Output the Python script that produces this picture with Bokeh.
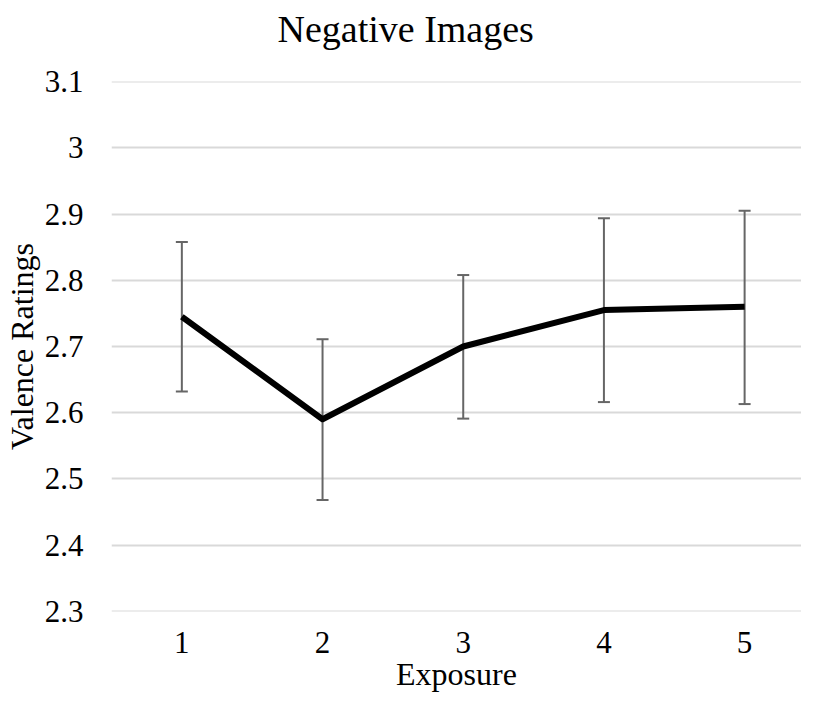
from bokeh.plotting import figure
from bokeh.models import ColumnDataSource, Range1d, Whisker, TeeHead, FixedTicker, Title
from bokeh.embed import file_html
from bokeh.resources import INLINE

exposure = [1, 2, 3, 4, 5]
ratings = [2.745, 2.59, 2.70, 2.755, 2.76]
upper = [2.858, 2.711, 2.808, 2.894, 2.905]
lower = [2.632, 2.468, 2.591, 2.616, 2.613]
y_ticks = [2.3, 2.4, 2.5, 2.6, 2.7, 2.8, 2.9, 3.0, 3.1]
y_tick_labels = {2.3: "2.3", 2.4: "2.4", 2.5: "2.5", 2.6: "2.6", 2.7: "2.7",
                 2.8: "2.8", 2.9: "2.9", 3.0: "3", 3.1: "3.1"}
title_text = "Negative Images"

FONT = "Liberation Serif"

src = ColumnDataSource(dict(x=exposure, y=ratings, upper=upper, lower=lower))

p = figure(width=801, height=707, output_backend="svg", toolbar_location=None,
           x_range=Range1d(0.5, 0.5 + 692 / 141.1), y_range=Range1d(2.2995, 3.1005),
           min_border_left=109, min_border_right=0, min_border_top=75,
           min_border_bottom=96)
p.outline_line_color = None
p.background_fill_color = "white"
p.border_fill_color = "white"

p.title.text = title_text
p.title.text_font = FONT
p.title.text_font_size = "38px"
p.title.text_font_style = "normal"
p.title.text_color = "black"
p.title.align = "left"
p.title.offset = 166

# empty spacer panel between the title and the plot frame
p.add_layout(Title(text=" ", text_font_size="13px"), "above")

whisk = Whisker(source=src, base="x", upper="upper", lower="lower",
                line_color="#666666", line_width=2,
                upper_head=TeeHead(size=12, line_color="#666666", line_width=2),
                lower_head=TeeHead(size=12, line_color="#666666", line_width=2))
p.add_layout(whisk)

p.line("x", "y", source=src, line_color="black", line_width=6, line_join="round")

p.xgrid.grid_line_color = None
p.ygrid.grid_line_color = "#d9d9d9"
p.ygrid.grid_line_width = 2
p.ygrid.ticker = FixedTicker(ticks=y_ticks)

p.xaxis.ticker = FixedTicker(ticks=exposure)
p.yaxis.ticker = FixedTicker(ticks=y_ticks)
p.yaxis.major_label_overrides = y_tick_labels

for ax in (p.xaxis, p.yaxis):
    ax.axis_line_color = None
    ax.major_tick_line_color = None
    ax.minor_tick_line_color = None
    ax.major_tick_out = 0
    ax.major_tick_in = 0
    ax.major_label_text_font = FONT
    ax.major_label_text_font_size = "31px"
    ax.major_label_text_color = "black"
    ax.axis_label_text_font = FONT
    ax.axis_label_text_font_size = "32px"
    ax.axis_label_text_font_style = "normal"
    ax.axis_label_text_color = "black"

p.xaxis.axis_label = "Exposure"
p.yaxis.axis_label = "Valence Ratings"
p.xaxis.major_label_standoff = 20
p.yaxis.major_label_standoff = 28
p.xaxis.axis_label_standoff = 0
p.yaxis.axis_label_standoff = 2

open("out.html", "w").write(file_html(p, INLINE))
